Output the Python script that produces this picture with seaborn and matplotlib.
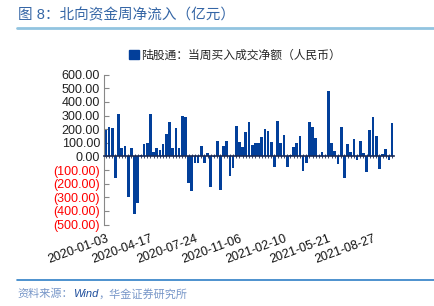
import pandas as pd
import matplotlib
matplotlib.use('Agg')
import matplotlib.pyplot as plt
import seaborn as sns
from matplotlib.patches import Patch
from matplotlib.lines import Line2D

# weekly northbound net buy (100m CNY)
net_inflow = [195, 215, 205, -160, 312, 60, 77, -300, 65, -423,
              -345, 10, 90, 102, 310, 35, 60, 48, 90, 163,
              250, 60, 212, 60, 298, 292, -197, -253, -50, -50,
              77, -45, 23, -227, -5, 116, -250, 80, 116, -143,
              -87, 224, 104, 67, 178, 256, 85, 97, 97, 146,
              200, 190, 109, -75, 263, 102, 158, -80, 10, 72,
              97, 151, -104, -45, 256, 219, 134, 5, 36, 5,
              477, 102, 43, -55, 219, -160, 92, 30, 130, -26,
              114, 25, -111, 192, 288, 152, -93, 15, 53, -30, 244]
date_labels = ['2020-01-03', '2020-04-17', '2020-07-24', '2020-11-06',
               '2021-02-10', '2021-05-21', '2021-08-27']
label_every = 14
y_ticks = [600, 500, 400, 300, 200, 100, 0, -100, -200, -300, -400, -500]

series_name = '陆股通：当周买入成交净额（人民币）'
title = '图 8：北向资金周净流入（亿元）'
source = ['资料来源：', 'Wind', '，华金证券研究所']

sns.set_style('white')
plt.rcParams['font.family'] = ['Liberation Sans', 'Noto Sans CJK SC']

df = pd.DataFrame({'week': range(len(net_inflow)), 'value': net_inflow})

bar_color = '#023f9a'
fig = plt.figure(figsize=(4.35, 3.06), dpi=100)
ax = fig.add_axes([0.2398, 0.2663, 0.6652, 0.4896])
sns.barplot(data=df, x='week', y='value', color=bar_color, width=0.85,
            saturation=1, linewidth=0, edgecolor=bar_color, ax=ax)
ax.set_xlim(-0.5, len(net_inflow) - 0.5)
ax.set_ylim(-500, 600)
ax.set_xlabel('')
ax.set_ylabel('')

# y axis: grey spine, inward ticks, negatives in red with brackets
ax.set_yticks(y_ticks)
ax.set_yticklabels([f'{v:.2f}' if v >= 0 else f'({-v:.2f})' for v in y_ticks])
for lab, v in zip(ax.get_yticklabels(), y_ticks):
    lab.set_color('#ff0000' if v < 0 else '#222222')
ax.tick_params(axis='y', direction='in', length=3.5, width=0.8, color='#888888',
               labelsize=9, pad=3, left=True)
ax.spines['left'].set_color('#888888')
ax.spines['left'].set_linewidth(0.8)
for s in ['top', 'right']:
    ax.spines[s].set_visible(False)

# category axis line sits at zero
ax.spines['bottom'].set_position(('data', 0))
ax.spines['bottom'].set_color('#1a2a55')
ax.spines['bottom'].set_linewidth(1.2)
ax.set_xticks(range(len(net_inflow)))
ax.set_xticklabels([])
ax.tick_params(axis='x', direction='inout', length=3, width=0.6, color='#1a2a55',
               bottom=True)

# dates are shown at the bottom of the plot area
sec = ax.secondary_xaxis('bottom')
sec.set_xticks(range(0, len(net_inflow), label_every)[:len(date_labels)])
sec.set_xticklabels(date_labels, rotation=20, ha='right', rotation_mode='anchor',
                    fontsize=9, color='#111111')
sec.tick_params(length=0, pad=6)
sec.spines['bottom'].set_visible(False)

fig.legend(handles=[Patch(color=bar_color, label=series_name)], loc='center',
           bbox_to_anchor=(0.54, 0.817), frameon=False, fontsize=8.5,
           handlelength=0.8, handleheight=0.8, handletextpad=0.15,
           borderaxespad=0)

fig.text(0.041, 0.951, title, fontsize=10.5, color='#3566a6', va='center')
fig.add_artist(Line2D([0.039, 1.0], [0.908, 0.908], color='#92c4e0', lw=2))
fig.add_artist(Line2D([0.039, 1.0], [0.085, 0.085], color='#2f7fc6', lw=1.2))

t = fig.text(0.041, 0.039, source[0], fontsize=8, color='#7796c8',
             style='italic', va='center')
t = ax.annotate(source[1], xy=(1, 0), xycoords=t, va='bottom', fontsize=8,
                color='#1f4e9c', style='italic')
ax.annotate(source[2], xy=(1, 0), xycoords=t, va='bottom', fontsize=8,
            color='#7796c8', style='italic')

fig.savefig('out.png', dpi=100)
